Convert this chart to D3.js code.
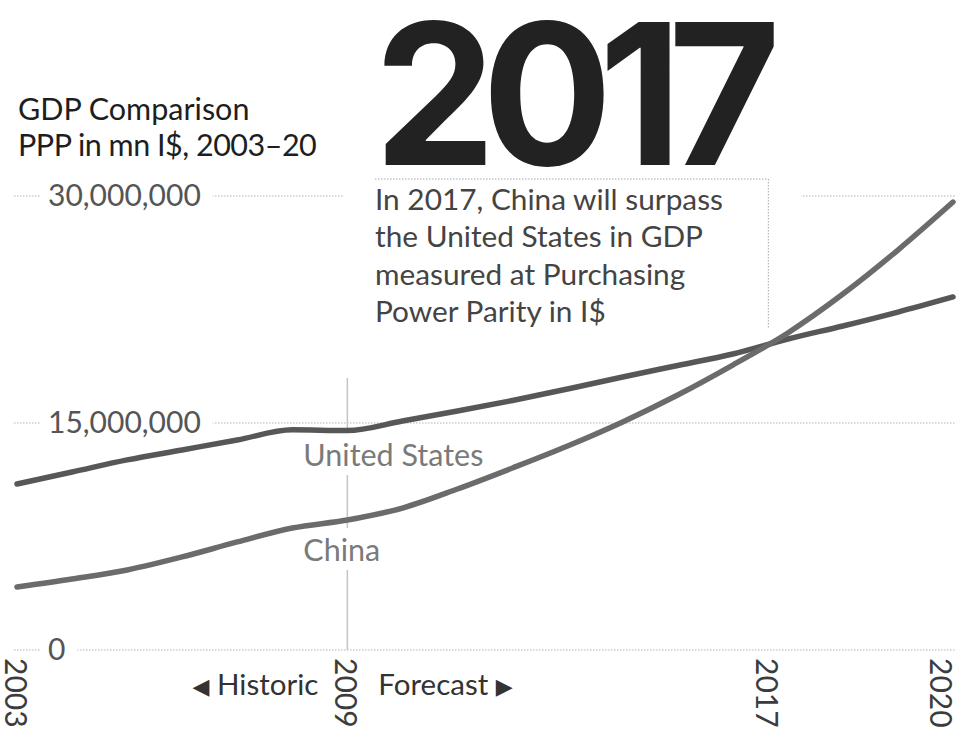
<!DOCTYPE html>
<html>
<head>
<meta charset="utf-8">
<script src="https://cdn.jsdelivr.net/npm/d3@7/dist/d3.min.js"></script>
<style>
  html, body { margin: 0; padding: 0; background: #fff; }
  svg { display: block; font-family: Lato, "Open Sans", sans-serif; }
</style>
</head>
<body>
<svg id="chart" width="973" height="729"></svg>
<script>
// GDP at purchasing power parity, millions of international dollars
const years = [2003, 2004, 2005, 2006, 2007, 2008, 2009, 2010, 2011,
               2012, 2013, 2014, 2015, 2016, 2017, 2018, 2019, 2020];
const usGDP = [10970000, 11760000, 12560000, 13220000, 13880000, 14550000,
               14500000, 15130000, 15790000, 16490000, 17250000, 18040000,
               18800000, 19560000, 20550000, 21410000, 22330000, 23330000];
const chinaGDP = [4160000, 4690000, 5290000, 6150000, 7140000, 8060000,
                  8590000, 9380000, 10640000, 12030000, 13480000, 15070000,
                  16850000, 18830000, 20950000, 23520000, 26430000, 29600000];

const seriesNames = ["United States", "China"];
const yTicks = [0, 15000000, 30000000];
const xTickYears = [2003, 2009, 2020];
const splitYear = 2009;            // last year of historic data
const crossoverLabel = "2017";
const titleLines = ["GDP Comparison", "PPP in mn I$, 2003–20"];
const noteLines = ["In 2017, China will surpass", "the United States in GDP",
                   "measured at Purchasing", "Power Parity in I$"];
const phaseLabels = ["Historic", "Forecast"];

const W = 973, H = 729;
const svg = d3.select("#chart");

const x = d3.scaleLinear().domain([2003, 2020]).range([17, 953]);
const y = d3.scaleLinear().domain([0, 30000000]).range([650, 196]);

// Year where China's series overtakes the US one (linear between yearly points)
let crossYear = years[years.length - 1], crossValue = usGDP[usGDP.length - 1];
for (let i = 1; i < years.length; i++) {
  const d0 = chinaGDP[i - 1] - usGDP[i - 1], d1 = chinaGDP[i] - usGDP[i];
  if (d0 < 0 && d1 >= 0) {
    const t = -d0 / (d1 - d0);
    crossYear = years[i - 1] + t * (years[i] - years[i - 1]);
    crossValue = usGDP[i - 1] + t * (usGDP[i] - usGDP[i - 1]);
    break;
  }
}
const cx = x(crossYear), cy = y(crossValue);

// ---- horizontal dotted gridlines with boxed value labels
const grid = svg.append("g");
yTicks.forEach(v => {
  grid.append("line")
    .attr("x1", 14).attr("x2", 955)
    .attr("y1", y(v)).attr("y2", y(v))
    .attr("stroke", "#b3b3b3").attr("stroke-width", 1)
    .attr("stroke-dasharray", "1.5,1.5");
});
const fmt = d3.format(",");
yTicks.forEach(v => {
  const g = grid.append("g");
  const bg = g.append("rect").attr("fill", "#fff");
  const t = g.append("text")
    .attr("x", 48).attr("y", y(v) + 10)
    .attr("font-size", 30).attr("fill", "#555")
    .text(fmt(v));
  const b = t.node().getBBox();
  bg.attr("x", b.x - 8).attr("y", b.y).attr("width", b.width + 20).attr("height", b.height);
});

// ---- historic / forecast divider
svg.append("line")
  .attr("x1", x(splitYear)).attr("x2", x(splitYear))
  .attr("y1", 378).attr("y2", y(0))
  .attr("stroke", "#c4c4c4").attr("stroke-width", 1.5);

// ---- annotation box
const note = svg.append("g");
note.append("rect")
  .attr("x", x(splitYear) - 4).attr("y", 181)
  .attr("width", cx + 33 - (x(splitYear) - 4)).attr("height", 155)
  .attr("fill", "#fff");
note.append("line")
  .attr("x1", 375).attr("x2", cx).attr("y1", 179).attr("y2", 179)
  .attr("stroke", "#a8a8a8").attr("stroke-width", 1).attr("stroke-dasharray", "1.5,1.5");
note.append("line")
  .attr("x1", cx).attr("x2", cx).attr("y1", 179).attr("y2", cy - 16)
  .attr("stroke", "#a8a8a8").attr("stroke-width", 1).attr("stroke-dasharray", "1.5,1.5");
noteLines.forEach((s, i) => {
  note.append("text")
    .attr("x", 375).attr("y", 210 + i * 37.3)
    .attr("font-size", 29.8).attr("fill", "#444")
    .text(s);
});

// big year headline
svg.append("text")
  .attr("x", 374).attr("y", 165)
  .attr("font-family", "Inter, Roboto, sans-serif")
  .attr("font-weight", 700)
  .attr("font-size", 196)
  .attr("letter-spacing", -14)
  .attr("textLength", 393).attr("lengthAdjust", "spacingAndGlyphs")
  .attr("fill", "#222")
  .text(crossoverLabel);

// ---- title
titleLines.forEach((s, i) => {
  svg.append("text")
    .attr("x", 18).attr("y", 120 + i * 36)
    .attr("font-size", 30.5).attr("fill", "#1e1e1e")
    .attr("letter-spacing", i === 1 ? -0.5 : 0)
    .text(s);
});

// ---- series labels on white chips
const labelPos = [{ dx: -44, baseline: 466 }, { dx: -44, baseline: 561 }];
seriesNames.forEach((name, i) => {
  const g = svg.append("g");
  const bg = g.append("rect").attr("fill", "#fff");
  const t = g.append("text")
    .attr("x", x(splitYear) + labelPos[i].dx).attr("y", labelPos[i].baseline)
    .attr("font-size", 30.5).attr("fill", "#7a7a7a")
    .text(name);
  const b = t.node().getBBox();
  bg.attr("x", b.x - 4).attr("y", b.y - 3).attr("width", b.width + 8).attr("height", b.height + 6);
});

// ---- lines
const line = d3.line().x((d, i) => x(years[i])).y(d => y(d)).curve(d3.curveMonotoneX);
const series = [
  { values: usGDP, color: "#575757" },
  { values: chinaGDP, color: "#6b6b6b" }
];
series.forEach(s => {
  svg.append("path")
    .attr("d", line(s.values))
    .attr("fill", "none")
    .attr("stroke", s.color)
    .attr("stroke-width", 5.5)
    .attr("stroke-linecap", "round")
    .attr("stroke-linejoin", "round");
});

// ---- rotated year labels
const yearTicks = xTickYears.map(yr => ({ pos: x(yr), label: String(yr) }))
  .concat([{ pos: cx, label: crossoverLabel }]);
yearTicks.forEach(d => {
  const px = Math.min(d.pos, W - 31);
  svg.append("text")
    .attr("transform", `translate(${px},658) rotate(90)`)
    .attr("dominant-baseline", "central")
    .attr("font-size", 30).attr("fill", "#3c3c3c")
    .text(d.label);
});

// ---- historic / forecast captions
const hist = svg.append("text")
  .attr("x", x(splitYear) - 29).attr("y", 695)
  .attr("text-anchor", "end")
  .attr("font-size", 29.5).attr("fill", "#333");
hist.append("tspan").attr("font-family", "DejaVu Sans").attr("font-size", 22).attr("dy", -1).text("◀");
hist.append("tspan").attr("dy", 1).text("  " + phaseLabels[0]);

const fore = svg.append("text")
  .attr("x", x(splitYear) + 31).attr("y", 695)
  .attr("font-size", 29.5).attr("fill", "#333");
fore.append("tspan").text(phaseLabels[1] + "  ");
fore.append("tspan").attr("font-family", "DejaVu Sans").attr("font-size", 22).attr("dy", -1).text("▶");
</script>
</body>
</html>
